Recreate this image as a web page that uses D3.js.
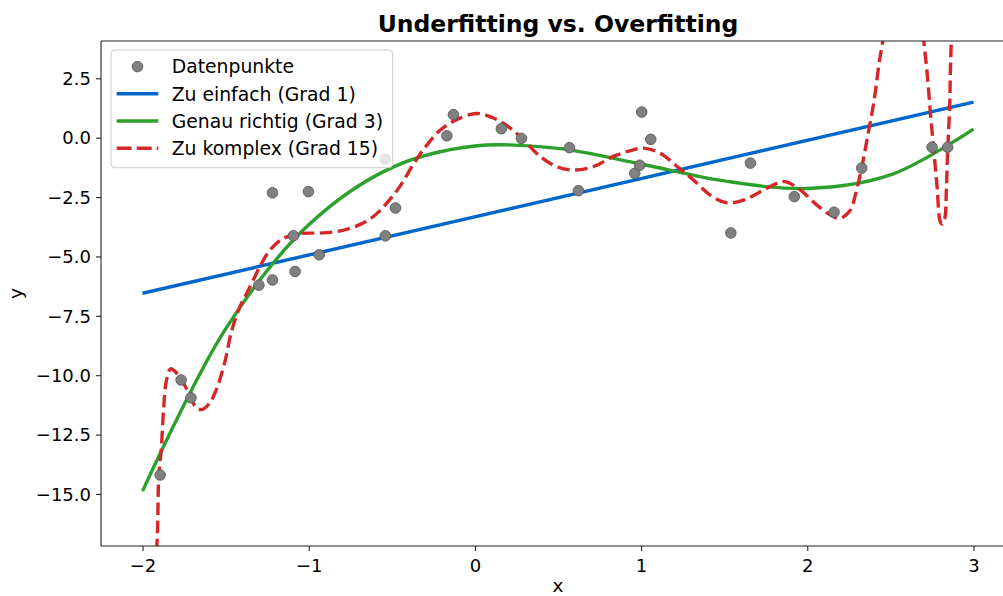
<!DOCTYPE html>
<html>
<head>
<meta charset="utf-8">
<script src="https://cdn.jsdelivr.net/npm/d3@7"></script>
<style>
  html, body { margin: 0; padding: 0; background: #fff; }
  svg { display: block; font-family: "DejaVu Sans", sans-serif; }
</style>
</head>
<body>
<svg id="chart" width="1003" height="596"></svg>
<script>
// Observed samples
const pointX = [-1.894, -1.768, -1.709, -1.300, -1.218, -1.218, -1.002, -1.092, -1.082, -0.937,
                -0.540, -0.539, -0.478, -0.169, -0.129, 0.159, 0.280, 0.569, 0.623, 0.962,
                0.992, 1.004, 1.058, 1.540, 1.658, 1.922, 2.161, 2.328, 2.751, 2.845];
const pointY = [-14.20, -10.20, -10.95, -6.21, -5.99, -2.32, -2.27, -4.13, -5.63, -4.93,
                -0.90, -4.13, -2.96, 0.08, 0.97, 0.38, -0.03, -0.42, -2.23, -1.50,
                -1.16, 1.08, -0.07, -4.01, -1.07, -2.48, -3.14, -1.28, -0.40, -0.40];

// Degree 1 fit (end points)
const linX = [-2, 3];
const linY = [-6.55, 1.50];

// Degree 3 fit
const cubX = [-2, -1.5, -1, -0.5, 0, 0.5, 1, 1.5, 2, 2.5, 3];
const cubY = [-14.88, -8.05, -3.67, -1.26, -0.35, -0.45, -1.11, -1.82, -2.14, -1.57, 0.36];

// Degree 15 fit
const polyX = [-1.958, -1.914, -1.902, -1.887, -1.873, -1.857, -1.831, -1.787, -1.727, -1.677,
               -1.639, -1.596, -1.556, -1.506, -1.464, -1.416, -1.375, -1.336, -1.285, -1.235,
               -1.155, -1.054, -0.914, -0.793, -0.693, -0.613, -0.532, -0.452, -0.372, -0.301,
               -0.211, -0.110, 0.010, 0.110, 0.211, 0.291, 0.392, 0.492, 0.592, 0.713,
               0.833, 0.954, 1.014, 1.114, 1.223, 1.315, 1.416, 1.516, 1.616, 1.717,
               1.817, 1.867, 1.958, 2.058, 2.159, 2.199, 2.259, 2.289, 2.333, 2.367,
               2.400, 2.436, 2.452, 2.476, 2.518, 2.578, 2.639, 2.681, 2.701, 2.721,
               2.741, 2.761, 2.781, 2.801, 2.813, 2.828, 2.837, 2.845, 2.857, 2.861,
               2.866, 2.873, 2.892];
const polyY = [-20.42, -17.17, -14.21, -13.08, -11.39, -10.25, -9.73, -9.97, -10.68, -11.36,
               -11.44, -11.17, -10.61, -9.48, -8.14, -7.15, -6.58, -6.02, -5.31, -4.75,
               -4.25, -4.04, -4.01, -3.90, -3.66, -3.33, -2.77, -2.06, -1.14, -0.42,
               0.30, 0.76, 1.02, 0.83, 0.41, -0.08, -0.79, -1.22, -1.36, -1.22,
               -0.79, -0.51, -0.44, -0.65, -1.25, -1.78, -2.42, -2.74, -2.63, -2.28,
               -1.92, -1.85, -2.20, -2.84, -3.33, -3.40, -3.05, -2.42, -1.07, 0.21,
               1.47, 3.31, 3.94, 5.21, 7.12, 8.18, 7.12, 5.42, 4.08, 2.74,
               1.05, -0.51, -2.06, -3.55, -3.64, -3.39, -2.20, -0.51, 1.33, 2.74,
               3.94, 5.85, 10.08];

const xTicks = [-2, -1, 0, 1, 2, 3];
const yTicks = [2.5, 0, -2.5, -5, -7.5, -10, -12.5, -15];

const legendLabels = ["Datenpunkte", "Zu einfach (Grad 1)", "Genau richtig (Grad 3)", "Zu komplex (Grad 15)"];

const COLORS = { pts: "#808080", lin: "#0066cc", cub: "#2ca02c", poly: "#d62728" };

const svg = d3.select("#chart");
const plot = { left: 101, right: 1015, top: 41, bottom: 546 };

const x = d3.scaleLinear().domain([-2.25, 3.25]).range([plot.left, plot.right]);
const y = d3.scaleLinear().domain([-17.19, 4.07]).range([plot.bottom, plot.top]);

svg.append("rect").attr("width", 1003).attr("height", 596).attr("fill", "#fff");

svg.append("defs").append("clipPath").attr("id", "plotclip")
  .append("rect")
  .attr("x", plot.left).attr("y", plot.top)
  .attr("width", plot.right - plot.left).attr("height", plot.bottom - plot.top);

const minus = s => s.replace(/-/g, "\u2212");

// Axes
const xAxis = svg.append("g")
  .attr("transform", `translate(0,${plot.bottom})`)
  .call(d3.axisBottom(x).tickValues(xTicks).tickSize(5).tickSizeOuter(0)
    .tickFormat(d => minus(d3.format("d")(d))));
const yAxis = svg.append("g")
  .attr("transform", `translate(${plot.left},0)`)
  .call(d3.axisLeft(y).tickValues(yTicks).tickSize(5).tickSizeOuter(0)
    .tickFormat(d => minus(d3.format(".1f")(d))));

[xAxis, yAxis].forEach(g => {
  g.select(".domain").remove();
  g.selectAll(".tick line").attr("stroke", "#222").attr("stroke-width", 1.1);
  g.selectAll(".tick text").attr("fill", "#000").attr("font-size", 18)
    .attr("font-family", "DejaVu Sans");
});
xAxis.selectAll(".tick text").attr("dy", null).attr("y", 26);
yAxis.selectAll(".tick text").attr("x", -10).attr("dy", "0.35em");

// Data layers
const layer = svg.append("g").attr("clip-path", "url(#plotclip)");

const line = d3.line().x(d => x(d[0])).y(d => y(d[1]));
const smooth = d3.line().x(d => x(d[0])).y(d => y(d[1])).curve(d3.curveCatmullRom.alpha(0.5));

layer.append("path")
  .datum(linX.map((v, i) => [v, linY[i]]))
  .attr("d", line).attr("fill", "none")
  .attr("stroke", COLORS.lin).attr("stroke-width", 3.4);

layer.append("path")
  .datum(cubX.map((v, i) => [v, cubY[i]]))
  .attr("d", smooth).attr("fill", "none")
  .attr("stroke", COLORS.cub).attr("stroke-width", 3.4);

layer.append("path")
  .datum(polyX.map((v, i) => [v, polyY[i]]))
  .attr("d", smooth).attr("fill", "none")
  .attr("stroke", COLORS.poly).attr("stroke-width", 3.4)
  .attr("stroke-dasharray", "12.5,5.5");

layer.selectAll("circle.pt")
  .data(pointX.map((v, i) => [v, pointY[i]]))
  .join("circle").attr("class", "pt")
  .attr("cx", d => x(d[0])).attr("cy", d => y(d[1])).attr("r", 5.3)
  .attr("fill", COLORS.pts).attr("stroke", "#5a5a5a").attr("stroke-width", 0.9);

// Spines (left, bottom, top; right lies beyond the canvas)
const spine = svg.append("g").attr("stroke", "#222").attr("stroke-width", 1.1);
spine.append("line").attr("x1", plot.left).attr("x2", plot.left).attr("y1", plot.top).attr("y2", plot.bottom);
spine.append("line").attr("x1", plot.left).attr("x2", plot.right).attr("y1", plot.bottom).attr("y2", plot.bottom);
spine.append("line").attr("x1", plot.left).attr("x2", plot.right).attr("y1", plot.top).attr("y2", plot.top);

// Title and axis labels
svg.append("text").attr("x", (plot.left + plot.right) / 2).attr("y", 31.5)
  .attr("text-anchor", "middle").attr("font-size", 23.5).attr("font-weight", "bold")
  .text("Underfitting vs. Overfitting");
svg.append("text").attr("x", (plot.left + plot.right) / 2).attr("y", 592)
  .attr("text-anchor", "middle").attr("font-size", 18.5).text("x");
svg.append("text")
  .attr("transform", `translate(22,${(plot.top + plot.bottom) / 2}) rotate(-90)`)
  .attr("text-anchor", "middle").attr("font-size", 18.5).text("y");

// Legend
const lg = svg.append("g");
lg.append("rect").attr("x", 111).attr("y", 50).attr("width", 281.7).attr("height", 117.7)
  .attr("rx", 4).attr("fill", "#fff").attr("fill-opacity", 0.8)
  .attr("stroke", "#cccccc").attr("stroke-width", 1);

const rowY = i => 66.6 + i * 27.2;
lg.selectAll("text.lab").data(legendLabels).join("text").attr("class", "lab")
  .attr("x", 171.7).attr("y", (d, i) => rowY(i) + 6.8)
  .attr("font-size", 18.8).attr("fill", "#000").text(d => d);

lg.append("circle").attr("cx", 137.5).attr("cy", rowY(0)).attr("r", 5.3)
  .attr("fill", COLORS.pts).attr("stroke", "#5a5a5a").attr("stroke-width", 0.9);
[[COLORS.lin, null], [COLORS.cub, null], [COLORS.poly, "15,5"]].forEach((s, k) => {
  lg.append("line").attr("x1", 116.7).attr("x2", 158.3)
    .attr("y1", rowY(k + 1)).attr("y2", rowY(k + 1))
    .attr("stroke", s[0]).attr("stroke-width", 3.4)
    .attr("stroke-dasharray", s[1]);
});
</script>
</body>
</html>
